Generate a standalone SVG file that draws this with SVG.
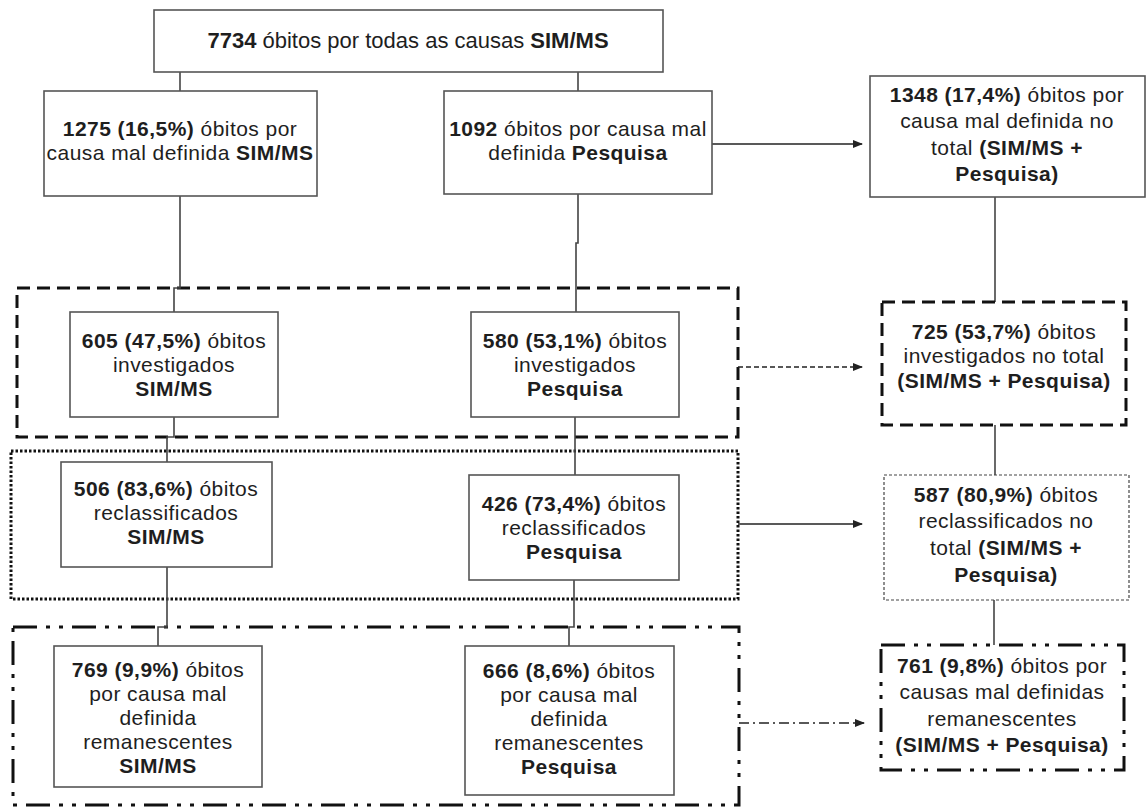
<svg xmlns="http://www.w3.org/2000/svg" width="1146" height="807" viewBox="0 0 1146 807">
<defs>
<marker id="ah" markerWidth="10" markerHeight="8" refX="9" refY="4" orient="auto" markerUnits="userSpaceOnUse">
<path d="M0,0 L10,4 L0,8 Z" fill="#222"/>
</marker>
<style>
text{font-family:"Liberation Sans",Arial,sans-serif;font-size:21px;letter-spacing:0.45px;fill:#1e1e1e;text-anchor:middle}
.t{font-size:22px;letter-spacing:0}
.b{font-weight:bold}
.box{fill:#fff;stroke:#555;stroke-width:1.6}
.grpA{fill:none;stroke:#111;stroke-width:3;stroke-dasharray:13 7}
.grpB{fill:none;stroke:#111;stroke-width:3;stroke-dasharray:2.5 2}
.grpC{fill:none;stroke:#111;stroke-width:3;stroke-dasharray:24 9 4 9 4 9}
.dashT{fill:#fff;stroke:#111;stroke-width:3;stroke-dasharray:13 7}
.dotT{fill:#fff;stroke:#444;stroke-width:1.2;stroke-dasharray:3 2}
.ddT{fill:#fff;stroke:#111;stroke-width:3;stroke-dasharray:24 9 4 9 4 9}
.ln{fill:none;stroke:#444;stroke-width:1.6}
.ar{fill:none;stroke:#222;stroke-width:1.6;marker-end:url(#ah)}
.arDash{fill:none;stroke:#222;stroke-width:1.3;stroke-dasharray:5 3;marker-end:url(#ah)}
.arDD{fill:none;stroke:#222;stroke-width:1.3;stroke-dasharray:10 4 2 4;marker-end:url(#ah)}
</style>
</defs>

<g id="groups">
<rect class="grpA" x="17" y="288" width="721" height="149"/>
<rect class="grpB" x="11" y="451" width="727" height="148"/>
<rect class="grpC" x="13" y="627" width="726" height="178"/>
</g>

<g id="connectors">
<path class="ln" d="M180 72 V91"/>
<path class="ln" d="M578 72 V91"/>
<path class="ln" d="M180 196 V288 H174 V312"/>
<path class="ln" d="M174 417 V437 H167 V462"/>
<path class="ln" d="M167 567 V627 H158 V646"/>
<path class="ln" d="M578 194 V243 H576 V312"/>
<path class="ln" d="M575 417 V475"/>
<path class="ln" d="M574 580 V627 H569 V646"/>
<path class="ln" d="M995 197 V302"/>
<path class="ln" d="M995 425 V475"/>
<path class="ln" d="M994 600 V645"/>
<path class="ar" d="M712 144 H862"/>
<path class="arDash" d="M738 367 H862"/>
<path class="ar" d="M738 524 H862"/>
<path class="arDD" d="M739 723 H864"/>
</g>

<g id="n7734">
<rect class="box" x="154" y="10" width="509" height="62"/>
<text class="t" x="408" y="48"><tspan class="b">7734</tspan> óbitos por todas as causas <tspan class="b">SIM/MS</tspan></text>
</g>

<g id="n1275">
<rect class="box" x="44" y="91" width="273" height="105"/>
<text x="180" y="136"><tspan class="b">1275 (16,5%)</tspan> óbitos por</text>
<text x="180" y="160">causa mal definida <tspan class="b">SIM/MS</tspan></text>
</g>

<g id="n1092">
<rect class="box" x="444" y="91" width="268" height="103"/>
<text x="578" y="136"><tspan class="b">1092</tspan> óbitos por causa mal</text>
<text x="578" y="160">definida <tspan class="b">Pesquisa</tspan></text>
</g>

<g id="n1348">
<rect class="box" x="870" y="76" width="275" height="121"/>
<text x="1007" y="102"><tspan class="b">1348 (17,4%)</tspan> óbitos por</text>
<text x="1007" y="128">causa mal definida no</text>
<text x="1007" y="155">total <tspan class="b">(SIM/MS +</tspan></text>
<text x="1007" y="181" class="b">Pesquisa)</text>
</g>

<g id="n605">
<rect class="box" x="70" y="312" width="208" height="105"/>
<text x="174" y="348"><tspan class="b">605 (47,5%)</tspan> óbitos</text>
<text x="174" y="372">investigados</text>
<text x="174" y="396" class="b">SIM/MS</text>
</g>

<g id="n580">
<rect class="box" x="471" y="312" width="208" height="105"/>
<text x="575" y="348"><tspan class="b">580 (53,1%)</tspan> óbitos</text>
<text x="575" y="372">investigados</text>
<text x="575" y="396" class="b">Pesquisa</text>
</g>

<g id="n725">
<rect class="dashT" x="882" y="302" width="244" height="123"/>
<text x="1004" y="339"><tspan class="b">725 (53,7%)</tspan> óbitos</text>
<text x="1004" y="363">investigados no total</text>
<text x="1004" y="388" class="b">(SIM/MS + Pesquisa)</text>
</g>

<g id="n506">
<rect class="box" x="61" y="462" width="211" height="105"/>
<text x="166" y="496"><tspan class="b">506 (83,6%)</tspan> óbitos</text>
<text x="166" y="520">reclassificados</text>
<text x="166" y="544" class="b">SIM/MS</text>
</g>

<g id="n426">
<rect class="box" x="469" y="475" width="210" height="105"/>
<text x="574" y="511"><tspan class="b">426 (73,4%)</tspan> óbitos</text>
<text x="574" y="535">reclassificados</text>
<text x="574" y="559" class="b">Pesquisa</text>
</g>

<g id="n587">
<rect class="dotT" x="884" y="475" width="245" height="125"/>
<text x="1006" y="502"><tspan class="b">587 (80,9%)</tspan> óbitos</text>
<text x="1006" y="528">reclassificados no</text>
<text x="1006" y="555">total <tspan class="b">(SIM/MS +</tspan></text>
<text x="1006" y="582" class="b">Pesquisa)</text>
</g>

<g id="n769">
<rect class="box" x="54" y="646" width="208" height="141"/>
<text x="158" y="677"><tspan class="b">769 (9,9%)</tspan> óbitos</text>
<text x="158" y="701">por causa mal</text>
<text x="158" y="725">definida</text>
<text x="158" y="749">remanescentes</text>
<text x="158" y="773" class="b">SIM/MS</text>
</g>

<g id="n666">
<rect class="box" x="465" y="646" width="209" height="149"/>
<text x="569" y="678"><tspan class="b">666 (8,6%)</tspan> óbitos</text>
<text x="569" y="702">por causa mal</text>
<text x="569" y="726">definida</text>
<text x="569" y="750">remanescentes</text>
<text x="569" y="774" class="b">Pesquisa</text>
</g>

<g id="n761">
<rect class="ddT" x="881" y="645" width="243" height="125"/>
<text x="1002" y="673"><tspan class="b">761 (9,8%)</tspan> óbitos por</text>
<text x="1002" y="699">causas mal definidas</text>
<text x="1002" y="726">remanescentes</text>
<text x="1002" y="752" class="b">(SIM/MS + Pesquisa)</text>
</g>
</svg>
